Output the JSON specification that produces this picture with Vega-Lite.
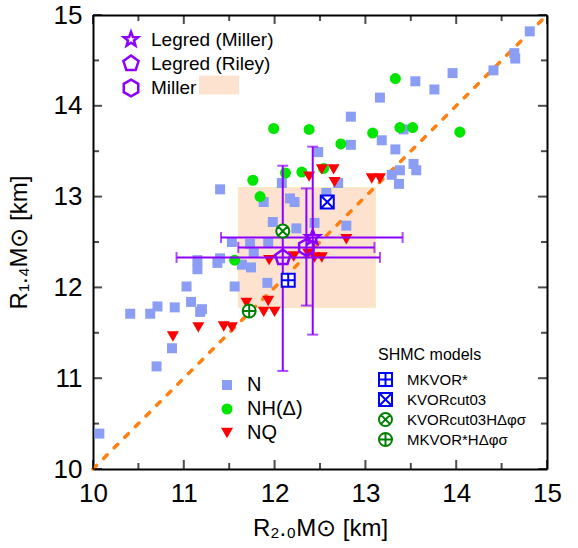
{
  "$schema": "https://vega.github.io/schema/vega-lite/v6.json",
  "width": 454,
  "height": 454,
  "autosize": {"type": "none"},
  "padding": {"left": 93, "top": 15, "right": 31, "bottom": 79},
  "background": "white",
  "config": {
    "font": "Liberation Sans",
    "view": {"stroke": null},
    "axis": {
      "domainColor": "black", "domainWidth": 2, "ticks": false,
      "labelFont": "Liberation Sans", "labelFontSize": 26, "labelColor": "black",
      "titleFont": "Liberation Sans", "titleFontSize": 24, "titleFontWeight": "normal", "titleColor": "black",
      "grid": false, "labelFlush": false, "labelOverlap": false
    }
  },
  "datasets": {
    "major": [{"v": 10}, {"v": 11}, {"v": 12}, {"v": 13}, {"v": 14}, {"v": 15}],
    "minor": [{"v": 10.5}, {"v": 11.5}, {"v": 12.5}, {"v": 13.5}, {"v": 14.5}],
    "box": [{"label": "Miller", "x1": 11.60, "x2": 13.11, "y1": 11.78, "y2": 13.10}],
    "diag": [{"x": 10, "y": 10}, {"x": 15, "y": 15}],
    "pts": [
      {"model": "N", "x": 10.07, "y": 10.39},
      {"model": "N", "x": 10.41, "y": 11.71},
      {"model": "N", "x": 10.63, "y": 11.71},
      {"model": "N", "x": 10.71, "y": 11.79},
      {"model": "N", "x": 10.90, "y": 11.78},
      {"model": "N", "x": 11.08, "y": 11.84},
      {"model": "N", "x": 11.18, "y": 11.73},
      {"model": "N", "x": 11.20, "y": 11.76},
      {"model": "N", "x": 11.03, "y": 12.01},
      {"model": "N", "x": 10.87, "y": 11.33},
      {"model": "N", "x": 10.70, "y": 11.13},
      {"model": "N", "x": 11.15, "y": 12.30},
      {"model": "N", "x": 11.15, "y": 12.20},
      {"model": "N", "x": 11.37, "y": 12.27},
      {"model": "N", "x": 11.40, "y": 12.32},
      {"model": "N", "x": 11.56, "y": 12.01},
      {"model": "N", "x": 11.64, "y": 12.25},
      {"model": "N", "x": 11.74, "y": 12.22},
      {"model": "N", "x": 11.53, "y": 12.50},
      {"model": "N", "x": 11.73, "y": 12.48},
      {"model": "N", "x": 11.77, "y": 12.38},
      {"model": "N", "x": 11.93, "y": 12.49},
      {"model": "N", "x": 11.92, "y": 12.05},
      {"model": "N", "x": 11.98, "y": 12.72},
      {"model": "N", "x": 11.40, "y": 13.08},
      {"model": "N", "x": 12.08, "y": 13.15},
      {"model": "N", "x": 11.88, "y": 12.94},
      {"model": "N", "x": 12.17, "y": 12.98},
      {"model": "N", "x": 12.22, "y": 12.94},
      {"model": "N", "x": 12.24, "y": 12.65},
      {"model": "N", "x": 12.44, "y": 12.71},
      {"model": "N", "x": 12.48, "y": 13.49},
      {"model": "N", "x": 12.57, "y": 13.04},
      {"model": "N", "x": 12.70, "y": 13.15},
      {"model": "N", "x": 12.79, "y": 12.68},
      {"model": "N", "x": 12.84, "y": 13.88},
      {"model": "N", "x": 12.84, "y": 13.57},
      {"model": "N", "x": 13.16, "y": 14.09},
      {"model": "N", "x": 13.18, "y": 13.62},
      {"model": "N", "x": 13.33, "y": 13.52},
      {"model": "N", "x": 13.42, "y": 13.74},
      {"model": "N", "x": 13.53, "y": 13.36},
      {"model": "N", "x": 13.56, "y": 13.29},
      {"model": "N", "x": 13.29, "y": 13.24},
      {"model": "N", "x": 13.38, "y": 13.29},
      {"model": "N", "x": 13.37, "y": 13.14},
      {"model": "N", "x": 13.55, "y": 14.27},
      {"model": "N", "x": 13.76, "y": 14.18},
      {"model": "N", "x": 13.96, "y": 14.36},
      {"model": "N", "x": 14.41, "y": 14.39},
      {"model": "N", "x": 14.64, "y": 14.58},
      {"model": "N", "x": 14.65, "y": 14.52},
      {"model": "N", "x": 14.81, "y": 14.82},
      {"model": "NH(Δ)", "x": 11.56, "y": 12.30},
      {"model": "NH(Δ)", "x": 11.76, "y": 13.18},
      {"model": "NH(Δ)", "x": 11.84, "y": 13.00},
      {"model": "NH(Δ)", "x": 12.12, "y": 13.26},
      {"model": "NH(Δ)", "x": 12.30, "y": 13.27},
      {"model": "NH(Δ)", "x": 12.54, "y": 13.31},
      {"model": "NH(Δ)", "x": 11.99, "y": 13.75},
      {"model": "NH(Δ)", "x": 12.38, "y": 13.74},
      {"model": "NH(Δ)", "x": 12.73, "y": 13.58},
      {"model": "NH(Δ)", "x": 13.08, "y": 13.70},
      {"model": "NH(Δ)", "x": 13.38, "y": 13.76},
      {"model": "NH(Δ)", "x": 13.52, "y": 13.76},
      {"model": "NH(Δ)", "x": 13.33, "y": 14.30},
      {"model": "NH(Δ)", "x": 14.04, "y": 13.71},
      {"model": "NQ", "x": 10.88, "y": 11.46},
      {"model": "NQ", "x": 11.16, "y": 11.56},
      {"model": "NQ", "x": 11.44, "y": 11.57},
      {"model": "NQ", "x": 11.53, "y": 11.56},
      {"model": "NQ", "x": 11.69, "y": 11.83},
      {"model": "NQ", "x": 11.93, "y": 11.85},
      {"model": "NQ", "x": 11.88, "y": 11.73},
      {"model": "NQ", "x": 12.00, "y": 11.73},
      {"model": "NQ", "x": 11.94, "y": 12.30},
      {"model": "NQ", "x": 12.21, "y": 12.34},
      {"model": "NQ", "x": 12.37, "y": 12.37},
      {"model": "NQ", "x": 12.44, "y": 12.33},
      {"model": "NQ", "x": 12.52, "y": 12.33},
      {"model": "NQ", "x": 12.79, "y": 12.53},
      {"model": "NQ", "x": 12.38, "y": 13.22},
      {"model": "NQ", "x": 12.52, "y": 13.30},
      {"model": "NQ", "x": 12.65, "y": 13.30},
      {"model": "NQ", "x": 12.66, "y": 13.16},
      {"model": "NQ", "x": 13.07, "y": 13.20},
      {"model": "NQ", "x": 13.16, "y": 13.20}
    ],
    "obs": [
      {"name": "Legred (Miller)", "x": 12.42, "y": 12.55, "xlo": 11.41, "xhi": 13.41, "ylo": 11.48, "yhi": 13.55},
      {"name": "Legred (Riley)", "x": 12.09, "y": 12.33, "xlo": 10.92, "xhi": 13.16, "ylo": 11.08, "yhi": 13.34},
      {"name": "Miller", "x": 12.35, "y": 12.44, "xlo": 11.60, "xhi": 13.10, "ylo": 11.80, "yhi": 13.09}
    ],
    "shmc": [
      {"name": "MKVOR*", "x": 12.15, "y": 12.08},
      {"name": "KVORcut03", "x": 12.58, "y": 12.94},
      {"name": "KVORcut03HΔφσ", "x": 12.09, "y": 12.62},
      {"name": "MKVOR*HΔφσ", "x": 11.72, "y": 11.74}
    ]
  },
  "layer": [
    {
      "data": {"name": "box"},
      "mark": {"type": "rect", "stroke": "#f4ebbd", "strokeWidth": 1},
      "encoding": {
        "x": {"field": "x1", "type": "quantitative", "scale": {"domain": [10, 15], "nice": false, "zero": false}, "axis": null},
        "x2": {"field": "x2"},
        "y": {"field": "y1", "type": "quantitative", "scale": {"domain": [10, 15], "nice": false, "zero": false}, "axis": null},
        "y2": {"field": "y2"},
        "fill": {"field": "label", "type": "nominal", "scale": {"range": ["#fde3cf"]},
          "legend": {"orient": "none", "legendX": 106, "legendY": 50, "title": null, "symbolType": "M-1,-0.47L1,-0.47L1,0.47L-1,0.47Z", "symbolSize": 1600, "symbolStrokeWidth": 0, "labelExpr": "''", "labelFontSize": 1, "symbolOpacity": 1}}
      }
    },
    {
      "data": {"name": "diag"},
      "mark": {"type": "line", "color": "#ff8010", "strokeWidth": 3.5, "strokeDash": [5, 10], "strokeCap": "round"},
      "encoding": {
        "x": {"field": "x", "type": "quantitative", "scale": {"domain": [10, 15], "nice": false, "zero": false},
          "axis": {"orient": "top", "values": [10, 11, 12, 13, 14, 15], "labels": false, "title": null}},
        "y": {"field": "y", "type": "quantitative", "scale": {"domain": [10, 15], "nice": false, "zero": false},
          "axis": {"orient": "right", "values": [10, 11, 12, 13, 14, 15], "labels": false, "title": null}}
      }
    },
    {
      "data": {"name": "major"},
      "mark": {"type": "tick", "orient": "vertical", "color": "black", "size": 9, "thickness": 2, "yOffset": -4.5},
      "encoding": {
        "x": {"field": "v", "type": "quantitative", "scale": {"domain": [10, 15], "nice": false, "zero": false}, "axis": null},
        "y": {"datum": 10, "type": "quantitative", "scale": {"domain": [10, 15], "nice": false, "zero": false}, "axis": null}
      }
    },
    {
      "data": {"name": "minor"},
      "mark": {"type": "tick", "orient": "vertical", "color": "black", "size": 6, "thickness": 2, "yOffset": -3},
      "encoding": {
        "x": {"field": "v", "type": "quantitative", "scale": {"domain": [10, 15], "nice": false, "zero": false}, "axis": null},
        "y": {"datum": 10, "type": "quantitative", "scale": {"domain": [10, 15], "nice": false, "zero": false}, "axis": null}
      }
    },
    {
      "data": {"name": "major"},
      "mark": {"type": "tick", "orient": "vertical", "color": "black", "size": 9, "thickness": 2, "yOffset": 4.5},
      "encoding": {
        "x": {"field": "v", "type": "quantitative", "scale": {"domain": [10, 15], "nice": false, "zero": false}, "axis": null},
        "y": {"datum": 15, "type": "quantitative", "scale": {"domain": [10, 15], "nice": false, "zero": false}, "axis": null}
      }
    },
    {
      "data": {"name": "minor"},
      "mark": {"type": "tick", "orient": "vertical", "color": "black", "size": 6, "thickness": 2, "yOffset": 3},
      "encoding": {
        "x": {"field": "v", "type": "quantitative", "scale": {"domain": [10, 15], "nice": false, "zero": false}, "axis": null},
        "y": {"datum": 15, "type": "quantitative", "scale": {"domain": [10, 15], "nice": false, "zero": false}, "axis": null}
      }
    },
    {
      "data": {"name": "major"},
      "mark": {"type": "tick", "orient": "horizontal", "color": "black", "size": 9, "thickness": 2, "xOffset": 4.5},
      "encoding": {
        "y": {"field": "v", "type": "quantitative", "scale": {"domain": [10, 15], "nice": false, "zero": false}, "axis": null},
        "x": {"datum": 10, "type": "quantitative", "scale": {"domain": [10, 15], "nice": false, "zero": false}, "axis": null}
      }
    },
    {
      "data": {"name": "minor"},
      "mark": {"type": "tick", "orient": "horizontal", "color": "black", "size": 6, "thickness": 2, "xOffset": 3},
      "encoding": {
        "y": {"field": "v", "type": "quantitative", "scale": {"domain": [10, 15], "nice": false, "zero": false}, "axis": null},
        "x": {"datum": 10, "type": "quantitative", "scale": {"domain": [10, 15], "nice": false, "zero": false}, "axis": null}
      }
    },
    {
      "data": {"name": "major"},
      "mark": {"type": "tick", "orient": "horizontal", "color": "black", "size": 9, "thickness": 2, "xOffset": -4.5},
      "encoding": {
        "y": {"field": "v", "type": "quantitative", "scale": {"domain": [10, 15], "nice": false, "zero": false}, "axis": null},
        "x": {"datum": 15, "type": "quantitative", "scale": {"domain": [10, 15], "nice": false, "zero": false}, "axis": null}
      }
    },
    {
      "data": {"name": "minor"},
      "mark": {"type": "tick", "orient": "horizontal", "color": "black", "size": 6, "thickness": 2, "xOffset": -3},
      "encoding": {
        "y": {"field": "v", "type": "quantitative", "scale": {"domain": [10, 15], "nice": false, "zero": false}, "axis": null},
        "x": {"datum": 15, "type": "quantitative", "scale": {"domain": [10, 15], "nice": false, "zero": false}, "axis": null}
      }
    },
    {
      "data": {"name": "pts"},
      "mark": {"type": "point", "filled": true, "opacity": 1},
      "encoding": {
        "x": {"field": "x", "type": "quantitative", "scale": {"domain": [10, 15], "nice": false, "zero": false},
          "axis": {"orient": "bottom", "values": [10, 11, 12, 13, 14, 15],
            "labelExpr": "'' + datum.value", "labelPadding": 11,
            "title": "R₂.₀M⊙ [km]", "titlePadding": 10}},
        "y": {"field": "y", "type": "quantitative", "scale": {"domain": [10, 15], "nice": false, "zero": false},
          "axis": {"orient": "left", "values": [10, 11, 12, 13, 14, 15],
            "labelExpr": "'' + datum.value", "labelPadding": 11,
            "title": "R₁.₄M⊙ [km]", "titlePadding": 22}},
        "color": {"field": "model", "type": "nominal",
          "scale": {"domain": ["N", "NH(Δ)", "NQ"], "range": ["#8c9ef4", "#00e600", "#ff0000"]},
          "legend": {"orient": "none", "legendX": 124, "legendY": 360, "title": null, "labelFont": "Liberation Sans", "labelFontSize": 20, "labelColor": "black", "labelOffset": 10, "rowPadding": 4, "symbolStrokeWidth": 0}},
        "shape": {"field": "model", "type": "nominal",
          "scale": {"domain": ["N", "NH(Δ)", "NQ"], "range": ["square", "circle", "triangle-down"]},
          "legend": {"orient": "none", "legendX": 124, "legendY": 360, "title": null, "labelFont": "Liberation Sans", "labelFontSize": 20, "labelColor": "black", "labelOffset": 10, "rowPadding": 4, "symbolStrokeWidth": 0}},
        "size": {"field": "model", "type": "nominal",
          "scale": {"domain": ["N", "NH(Δ)", "NQ"], "range": [100, 144, 165]},
          "legend": {"orient": "none", "legendX": 124, "legendY": 360, "title": null, "labelFont": "Liberation Sans", "labelFontSize": 20, "labelColor": "black", "labelOffset": 10, "rowPadding": 4, "symbolStrokeWidth": 0}}
      }
    },
    {
      "data": {"name": "obs"},
      "mark": {"type": "rule", "color": "#8b00ff", "strokeWidth": 2},
      "encoding": {
        "x": {"field": "xlo", "type": "quantitative", "scale": {"domain": [10, 15], "nice": false, "zero": false}, "axis": null},
        "x2": {"field": "xhi"},
        "y": {"field": "y", "type": "quantitative", "scale": {"domain": [10, 15], "nice": false, "zero": false}, "axis": null}
      }
    },
    {
      "data": {"name": "obs"},
      "mark": {"type": "rule", "color": "#8b00ff", "strokeWidth": 2},
      "encoding": {
        "x": {"field": "x", "type": "quantitative", "scale": {"domain": [10, 15], "nice": false, "zero": false}, "axis": null},
        "y": {"field": "ylo", "type": "quantitative", "scale": {"domain": [10, 15], "nice": false, "zero": false}, "axis": null},
        "y2": {"field": "yhi"}
      }
    },
    {
      "data": {"name": "obs"},
      "mark": {"type": "tick", "orient": "vertical", "color": "#8b00ff", "size": 11, "thickness": 2},
      "encoding": {
        "x": {"field": "xlo", "type": "quantitative", "scale": {"domain": [10, 15], "nice": false, "zero": false}, "axis": null},
        "y": {"field": "y", "type": "quantitative", "scale": {"domain": [10, 15], "nice": false, "zero": false}, "axis": null}
      }
    },
    {
      "data": {"name": "obs"},
      "mark": {"type": "tick", "orient": "vertical", "color": "#8b00ff", "size": 11, "thickness": 2},
      "encoding": {
        "x": {"field": "xhi", "type": "quantitative", "scale": {"domain": [10, 15], "nice": false, "zero": false}, "axis": null},
        "y": {"field": "y", "type": "quantitative", "scale": {"domain": [10, 15], "nice": false, "zero": false}, "axis": null}
      }
    },
    {
      "data": {"name": "obs"},
      "mark": {"type": "tick", "orient": "horizontal", "color": "#8b00ff", "size": 11, "thickness": 2},
      "encoding": {
        "x": {"field": "x", "type": "quantitative", "scale": {"domain": [10, 15], "nice": false, "zero": false}, "axis": null},
        "y": {"field": "ylo", "type": "quantitative", "scale": {"domain": [10, 15], "nice": false, "zero": false}, "axis": null}
      }
    },
    {
      "data": {"name": "obs"},
      "mark": {"type": "tick", "orient": "horizontal", "color": "#8b00ff", "size": 11, "thickness": 2},
      "encoding": {
        "x": {"field": "x", "type": "quantitative", "scale": {"domain": [10, 15], "nice": false, "zero": false}, "axis": null},
        "y": {"field": "yhi", "type": "quantitative", "scale": {"domain": [10, 15], "nice": false, "zero": false}, "axis": null}
      }
    },
    {
      "data": {"name": "obs"},
      "mark": {"type": "point", "filled": false, "strokeWidth": 2.5, "opacity": 1},
      "encoding": {
        "x": {"field": "x", "type": "quantitative", "scale": {"domain": [10, 15], "nice": false, "zero": false}, "axis": null},
        "y": {"field": "y", "type": "quantitative", "scale": {"domain": [10, 15], "nice": false, "zero": false}, "axis": null},
        "stroke": {"field": "name", "type": "nominal",
          "scale": {"domain": ["Legred (Miller)", "Legred (Riley)", "Miller"], "range": ["#8b00ff", "#8b00ff", "#8b00ff"]},
          "legend": {"orient": "none", "legendX": 28, "legendY": 15, "title": null, "labelFont": "Liberation Sans", "labelFontSize": 19, "labelColor": "black", "labelOffset": 10, "rowPadding": -1, "symbolStrokeWidth": 2.5, "symbolFillColor": "white"}},
        "shape": {"field": "name", "type": "nominal",
          "scale": {"domain": ["Legred (Miller)", "Legred (Riley)", "Miller"], "range": [
            "M0,-1L0.247,-0.34L0.951,-0.309L0.399,0.13L0.588,0.809L0,0.42L-0.588,0.809L-0.399,0.13L-0.951,-0.309L-0.247,-0.34Z",
            "M0,-1L0.951,-0.309L0.588,0.809L-0.588,0.809L-0.951,-0.309Z",
            "M0,-1L0.866,-0.5L0.866,0.5L0,1L-0.866,0.5L-0.866,-0.5Z"]},
          "legend": {"orient": "none", "legendX": 28, "legendY": 15, "title": null, "labelFont": "Liberation Sans", "labelFontSize": 19, "labelColor": "black", "labelOffset": 10, "rowPadding": -1, "symbolStrokeWidth": 2.5, "symbolFillColor": "white"}},
        "size": {"field": "name", "type": "nominal",
          "scale": {"domain": ["Legred (Miller)", "Legred (Riley)", "Miller"], "range": [230, 280, 280]},
          "legend": {"orient": "none", "legendX": 28, "legendY": 15, "title": null, "labelFont": "Liberation Sans", "labelFontSize": 19, "labelColor": "black", "labelOffset": 10, "rowPadding": -1, "symbolStrokeWidth": 2.5, "symbolFillColor": "white"}}
      }
    },
    {
      "data": {"name": "shmc"},
      "mark": {"type": "point", "filled": false, "fill": "white", "fillOpacity": 1, "strokeWidth": 2, "size": 169, "opacity": 1},
      "encoding": {
        "x": {"field": "x", "type": "quantitative", "scale": {"domain": [10, 15], "nice": false, "zero": false}, "axis": null},
        "y": {"field": "y", "type": "quantitative", "scale": {"domain": [10, 15], "nice": false, "zero": false}, "axis": null},
        "stroke": {"field": "name", "type": "nominal",
          "scale": {"domain": ["MKVOR*", "KVORcut03", "KVORcut03HΔφσ", "MKVOR*HΔφσ"], "range": ["#0000ff", "#0000ff", "#008000", "#008000"]},
          "legend": {"orient": "none", "legendX": 285, "legendY": 332, "title": "SHMC models", "titleFont": "Liberation Sans", "titleFontSize": 16, "titleFontWeight": "normal", "titleColor": "black", "titlePadding": 9, "labelFont": "Liberation Sans", "labelFontSize": 15, "labelColor": "black", "labelOffset": 14, "rowPadding": -1, "symbolStrokeWidth": 2, "symbolFillColor": "white", "symbolSize": 169}},
        "shape": {"field": "name", "type": "nominal",
          "scale": {"domain": ["MKVOR*", "KVORcut03", "KVORcut03HΔφσ", "MKVOR*HΔφσ"], "range": [
            "M-1,-1L1,-1L1,1L-1,1Z M0,-1L0,1 M-1,0L1,0",
            "M-1,-1L1,-1L1,1L-1,1Z M-1,-1L1,1 M1,-1L-1,1",
            "M1,0A1,1,0,1,1,-1,0A1,1,0,1,1,1,0Z M-0.707,-0.707L0.707,0.707 M0.707,-0.707L-0.707,0.707",
            "M1,0A1,1,0,1,1,-1,0A1,1,0,1,1,1,0Z M0,-1L0,1 M-1,0L1,0"]},
          "legend": {"orient": "none", "legendX": 285, "legendY": 332, "title": "SHMC models", "titleFont": "Liberation Sans", "titleFontSize": 16, "titleFontWeight": "normal", "titleColor": "black", "titlePadding": 9, "labelFont": "Liberation Sans", "labelFontSize": 15, "labelColor": "black", "labelOffset": 14, "rowPadding": -1, "symbolStrokeWidth": 2, "symbolFillColor": "white", "symbolSize": 169}}
      }
    }
  ],
  "resolve": {
    "scale": {"color": "independent", "shape": "independent", "stroke": "independent", "fill": "independent", "size": "independent"},
    "axis": {"x": "independent", "y": "independent"}
  }
}
